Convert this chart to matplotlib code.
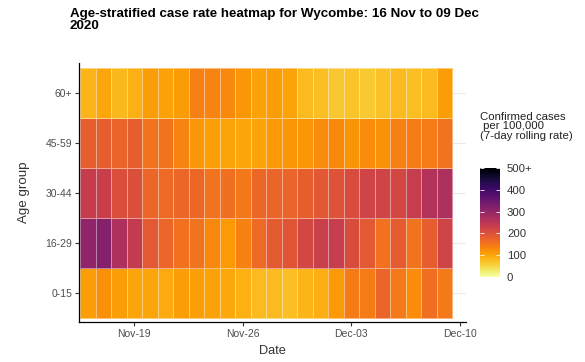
import numpy as np
import pandas as pd
import matplotlib
matplotlib.use("Agg")
import matplotlib.pyplot as plt
import matplotlib.dates as mdates

plt.rcParams['font.family'] = ['Liberation Sans', 'DejaVu Sans']

# -----------------------------
# Data (7-day rolling case rate per 100,000)
# -----------------------------
dates = pd.date_range("2020-11-16", "2020-12-09", freq="D")
age_groups = ["0-15", "16-29", "30-44", "45-59", "60+"]

rate_0_15 = [108, 122, 108, 100, 100, 95, 108, 106, 104, 97, 88, 80,
             80, 75, 85, 90, 113, 145, 145, 172, 148, 125, 162, 148]
rate_16_29 = [305, 318, 268, 240, 188, 170, 158, 155, 132, 112, 137, 165,
              186, 195, 215, 230, 235, 208, 188, 158, 185, 155, 182, 222]
rate_30_44 = [238, 232, 205, 203, 170, 165, 170, 168, 155, 160, 150, 168,
              172, 172, 180, 190, 198, 208, 222, 222, 215, 235, 260, 268]
rate_45_59 = [180, 182, 172, 180, 155, 156, 135, 115, 106, 102, 98, 103,
              113, 117, 115, 125, 130, 118, 125, 120, 140, 145, 145, 155]
rate_60p = [85, 98, 82, 88, 108, 105, 110, 140, 135, 130, 115, 105,
            108, 102, 80, 75, 65, 70, 63, 72, 80, 76, 79, 108]

rates = np.array([rate_0_15, rate_16_29, rate_30_44, rate_45_59, rate_60p])

cbar_ticks = [0, 100, 200, 300, 400, 500]
cbar_labels = ["0", "100", "200", "300", "400", "500+"]
x_ticks = pd.to_datetime(["2020-11-19", "2020-11-26", "2020-12-03", "2020-12-10"])

# -----------------------------
# Figure
# -----------------------------
W, H = 585, 362
fig = plt.figure(figsize=(W / 100, H / 100), dpi=100)
ax = fig.add_axes([79 / W, 1 - 322 / H, (466 - 79) / W, (322 - 63) / H])

day_nums = mdates.date2num(dates)
x_edges = np.append(day_nums - 0.5, day_nums[-1] + 0.5)
y_edges = np.arange(len(age_groups) + 1) - 0.5

mesh = ax.pcolormesh(x_edges, y_edges, rates, cmap="inferno_r", vmin=0, vmax=500,
                     edgecolors=(1, 1, 1, 0.45), linewidth=0.5, zorder=2)

ax.set_xlim(day_nums[0] - 0.565, day_nums[-1] + 1.4)
ax.set_ylim(-0.58, 4.6)

ax.set_yticks(range(len(age_groups)))
ax.set_yticklabels(age_groups)
ax.set_xticks(mdates.date2num(x_ticks))
ax.xaxis.set_major_formatter(mdates.DateFormatter("%b-%d"))

ax.grid(axis="y", color="#ebebe0", linewidth=0.8, zorder=0)
ax.set_axisbelow(True)
for side in ["top", "right"]:
    ax.spines[side].set_visible(False)
for side in ["left", "bottom"]:
    ax.spines[side].set_linewidth(0.9)
    ax.spines[side].set_color("black")

ax.tick_params(axis="both", length=3, width=0.8, color="#333333",
               labelsize=7.5, labelcolor="#4d4d4d", pad=2)

ax.set_xlabel("Date", fontsize=9.2, color="#333333", labelpad=4)
ax.set_ylabel("Age group", fontsize=9.6, color="#333333", labelpad=11)

fig.text(70 / W, 1 - 8 / H, "Age-stratified case rate heatmap for Wycombe: 16 Nov to 09 Dec\n2020",
         fontsize=9.6, fontweight="bold", va="top", ha="left", linespacing=0.97)

# -----------------------------
# Colour bar
# -----------------------------
cax = fig.add_axes([480 / W, 1 - 277 / H, 20 / W, 109 / H])
cb = fig.colorbar(mesh, cax=cax, ticks=cbar_ticks)
cb.outline.set_visible(False)
cax.set_yticklabels(cbar_labels)
cax.tick_params(axis="y", direction="in", color="white", length=3, width=0.6,
                left=True, right=True, labelsize=8.2, labelcolor="#333333", pad=5)

fig.text(480 / W, 1 - 112 / H, "Confirmed cases\n per 100,000\n(7-day rolling rate)",
         fontsize=8.2, va="top", ha="left", color="#222222", linespacing=0.92)

fig.savefig("out.png", dpi=100)
plt.close(fig)
